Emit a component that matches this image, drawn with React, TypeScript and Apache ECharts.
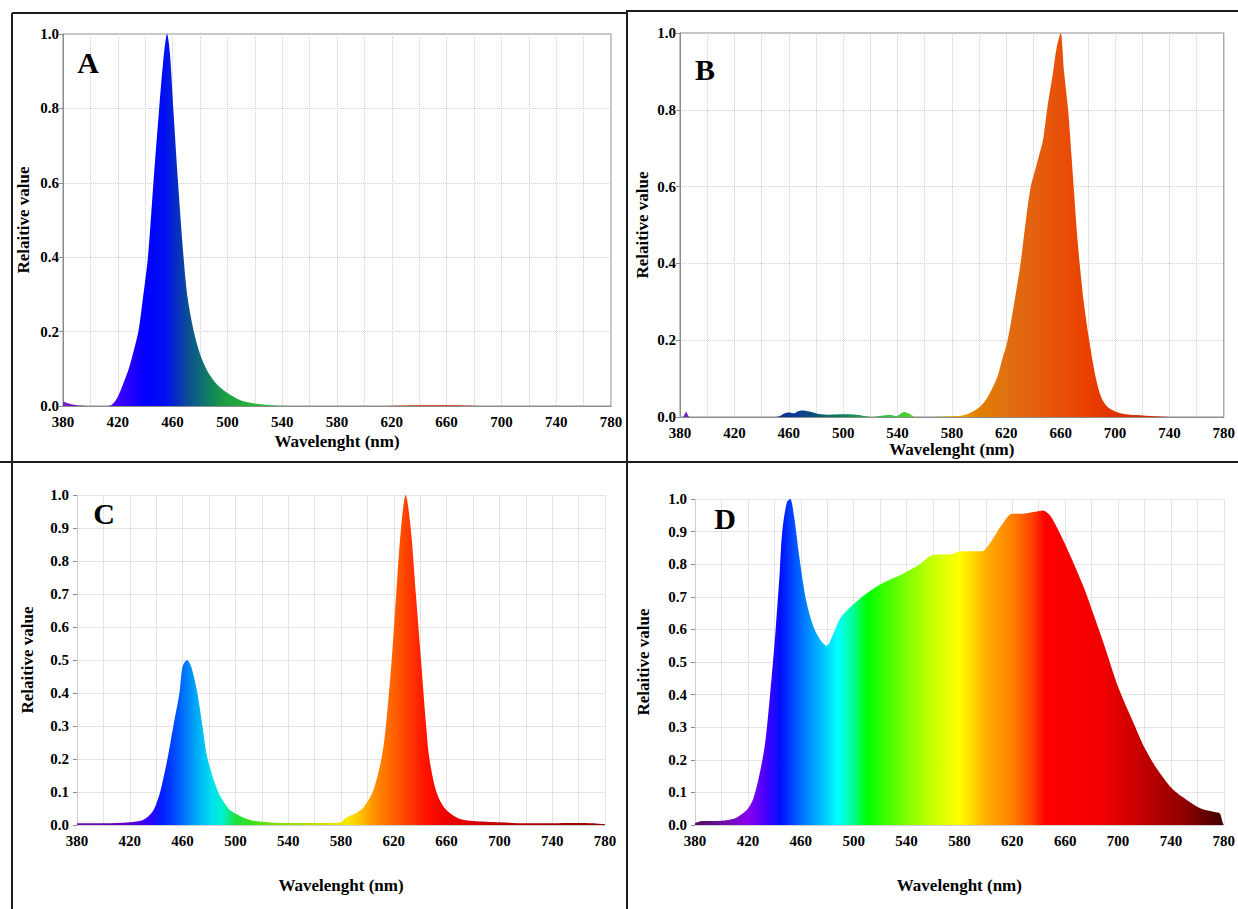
import React, { useEffect, useRef } from 'react';
import * as echarts from 'echarts';

// ---------- axis / tick values ----------
const X_MIN = 380;
const X_MAX = 780;
const X_GRID_STEP = 20;
const X_LABEL_STEP = 40;
const Y_STEP_AB = 0.2;
const Y_STEP_CD = 0.1;

const PANEL_LETTERS = ['A', 'B', 'C', 'D'];
const X_TITLE = 'Wavelenght (nm)';
const Y_TITLE = 'Relaitive value';

// ---------- Panel A (blue LED) ----------
const A_WL = [380, 385, 390, 400, 410, 415, 420, 425, 428, 431, 435, 438, 442, 446, 450, 453, 456, 458, 460.5, 464, 468, 471, 475.5, 480, 486, 492, 500, 510, 520, 530, 540, 560, 600, 620, 640, 660, 680, 700, 740, 780];
const A_VAL = [0.012, 0.006, 0.002, 0, 0, 0.002, 0.025, 0.07, 0.1, 0.14, 0.2, 0.28, 0.4, 0.6, 0.79, 0.92, 1.0, 0.95, 0.8, 0.6, 0.4, 0.29, 0.2, 0.14, 0.09, 0.06, 0.035, 0.015, 0.007, 0.003, 0.001, 0, 0, 0.001, 0.003, 0.003, 0.001, 0, 0, 0];

// ---------- Panel B (red LED) ----------
const B_WL = [380, 382, 384.5, 387, 390, 450, 453, 457, 460, 464, 467, 470, 474, 478, 482, 490, 500, 510, 517, 522, 528, 535, 539, 542, 545, 549, 553, 560, 580, 590, 600, 606, 613, 617, 621, 626, 630.5, 634, 638, 641, 644, 647, 650, 654.5, 657, 660, 662.5, 665.5, 668, 670, 672, 674, 677, 681, 686, 690, 695, 704, 715, 730, 745, 780];
const B_VAL = [0, 0, 0.013, 0, 0, 0, 0.002, 0.01, 0.012, 0.01, 0.015, 0.017, 0.015, 0.012, 0.008, 0.006, 0.007, 0.006, 0.002, 0, 0.003, 0.005, 0.002, 0.008, 0.013, 0.008, 0, 0, 0.002, 0.006, 0.025, 0.05, 0.1, 0.15, 0.2, 0.3, 0.4, 0.5, 0.6, 0.64, 0.68, 0.72, 0.8, 0.9, 0.96, 1.0, 0.9, 0.8, 0.68, 0.58, 0.48, 0.4, 0.3, 0.2, 0.1, 0.05, 0.025, 0.01, 0.005, 0.002, 0, 0];

// ---------- Panel C (blue + red LED) ----------
const C_WL = [380, 400, 420, 430, 435, 438.6, 443, 448.5, 453, 457.6, 460, 463.4, 466.5, 471.2, 475, 479, 487, 494.7, 500, 507.7, 515, 530, 550, 570, 580, 583, 590, 596.3, 604, 610.6, 614, 618.4, 621.8, 625.5, 629, 632.8, 636.7, 640.6, 644.5, 647, 652.3, 658.8, 669, 680, 690, 700, 720, 740, 750, 760, 770, 780];
const C_VAL = [0.005, 0.005, 0.008, 0.015, 0.03, 0.05, 0.1, 0.2, 0.3, 0.4, 0.48, 0.5, 0.48, 0.4, 0.3, 0.2, 0.1, 0.05, 0.035, 0.02, 0.012, 0.007, 0.006, 0.006, 0.008, 0.02, 0.033, 0.05, 0.1, 0.2, 0.3, 0.5, 0.7, 0.9, 1.0, 0.9, 0.7, 0.5, 0.3, 0.2, 0.1, 0.05, 0.02, 0.012, 0.01, 0.008, 0.005, 0.005, 0.006, 0.006, 0.005, 0.002];

// ---------- Panel D (full spectrum) ----------
const D_WL = [380, 385, 400, 410, 415, 420, 424, 428, 433, 438, 441, 444, 446, 449.5, 452, 455, 459, 464, 469.5, 474.5, 479.5, 485, 490, 498, 508, 521, 537, 550, 558, 565, 573, 581, 589, 597, 604, 612, 620, 628, 636, 643, 648.5, 656, 664, 674, 682, 690, 700, 711, 721, 731.5, 742, 752, 763, 773, 777, 779, 780];
const D_VAL = [0.005, 0.012, 0.013, 0.02, 0.032, 0.05, 0.08, 0.14, 0.25, 0.455, 0.6, 0.77, 0.9, 0.99, 1.0, 0.945, 0.82, 0.69, 0.61, 0.57, 0.55, 0.59, 0.635, 0.67, 0.705, 0.74, 0.77, 0.8, 0.825, 0.83, 0.83, 0.84, 0.84, 0.84, 0.87, 0.92, 0.955, 0.955, 0.96, 0.965, 0.95, 0.895, 0.825, 0.73, 0.64, 0.547, 0.425, 0.32, 0.23, 0.16, 0.107, 0.077, 0.05, 0.04, 0.036, 0.01, 0];

// ---------- colour stops (wavelength, colour) ----------
const A_COLORS: [number, string][] = [[380, '#7a20c8'], [400, '#5a10e8'], [415, '#4a00ff'], [428, '#2800ff'], [440, '#0000ff'], [455, '#0010f0'], [462, '#0828c8'], [470, '#0a4a9a'], [480, '#0e6a78'], [490, '#148a58'], [500, '#1ea040'], [520, '#28b838'], [560, '#40c040'], [600, '#c08040'], [640, '#d86030'], [680, '#d05030'], [780, '#c04030']];
const B_COLORS: [number, string][] = [[380, '#7a20d0'], [390, '#6030c0'], [455, '#103090'], [465, '#0c3c9a'], [475, '#0a4a80'], [485, '#0a6070'], [500, '#108060'], [515, '#20a050'], [530, '#30c040'], [545, '#40d030'], [560, '#a0c020'], [585, '#e8a000'], [600, '#e08000'], [620, '#e07010'], [640, '#e46010'], [660, '#e85008'], [680, '#ea4000'], [700, '#e03000'], [780, '#c02000']];
const C_COLORS: [number, string][] = [[380, '#6a10b0'], [420, '#6000d0'], [435, '#3000ff'], [445, '#0020ff'], [455, '#0050ff'], [462, '#0078f8'], [470, '#00a8f8'], [482, '#00e0f0'], [490, '#00f0d0'], [500, '#20e040'], [510, '#30e020'], [530, '#80e000'], [560, '#c0e000'], [585, '#f8e800'], [595, '#ffc000'], [605, '#ff9000'], [615, '#ff7000'], [625, '#ff5000'], [635, '#ff3000'], [645, '#ff1000'], [660, '#f00000'], [700, '#c00000'], [780, '#900000']];
const D_COLORS: [number, string][] = [[380, '#4a1060'], [400, '#6a10a0'], [420, '#8a00f0'], [435, '#4000ff'], [445, '#0010ff'], [455, '#0050ff'], [470, '#00a0ff'], [488, '#00ffff'], [500, '#00ff90'], [510, '#00ff00'], [540, '#80ff00'], [560, '#c8ff00'], [580, '#ffff00'], [600, '#ffb000'], [620, '#ff8000'], [635, '#ff4000'], [645, '#ff0000'], [690, '#f00000'], [720, '#c00000'], [750, '#900000'], [780, '#400000']];

const FONT = "'Liberation Serif', 'Times New Roman', serif";

function pairs(wl: number[], val: number[]) {
  return wl.map((w, i) => [w, val[i]]);
}

function spectrum(stops: [number, string][]) {
  return new echarts.graphic.LinearGradient(
    0, 0, 1, 0,
    stops.map(([w, c]) => ({ offset: (w - X_MIN) / (X_MAX - X_MIN), color: c }))
  );
}

export default function App() {
  const ref = useRef<HTMLDivElement>(null);

  useEffect(() => {
    if (!ref.current) return;
    const chart = echarts.init(ref.current, null, { renderer: 'svg' });

    const framed = [true, true, false, false];
    const grids = [
      { left: 63, top: 34, width: 548, height: 372 },
      { left: 680, top: 33, width: 551, height: 384 },
      { left: 77, top: 495, width: 528, height: 330 },
      { left: 695, top: 499, width: 535, height: 326 },
    ].map((g, i) => ({
      ...g,
      show: framed[i],
      borderColor: '#8c8c8c',
      borderWidth: 1,
      backgroundColor: 'transparent',
    }));

    const xNameGap = [27, 24, 52, 52];
    const yNameGap = [31, 29, 41, 43];
    const yStep = [Y_STEP_AB, Y_STEP_AB, Y_STEP_CD, Y_STEP_CD];
    const xLabelMargin = [8, 8, 8, 8];
    const yLabelMargin = [4, 4, 8, 8];

    const splitStyle = (i: number) =>
      framed[i]
        ? { color: '#cfcfcf', type: 'dotted' as const, width: 1 }
        : { color: '#e4e4e4', type: 'solid' as const, width: 1 };

    const labelText = {
      fontFamily: FONT,
      fontWeight: 'bold' as const,
      fontSize: 15,
      color: '#000',
    };
    const titleText = {
      fontFamily: FONT,
      fontWeight: 'bold' as const,
      fontSize: 17,
      color: '#000',
    };

    const xAxis = grids.map((_, i) => ({
      gridIndex: i,
      type: 'value',
      min: X_MIN,
      max: X_MAX,
      interval: X_GRID_STEP,
      name: X_TITLE,
      nameLocation: 'middle',
      nameGap: xNameGap[i],
      nameTextStyle: titleText,
      axisLine: { show: true, lineStyle: { color: framed[i] ? '#8c8c8c' : '#cfcfcf' } },
      axisTick: { show: false },
      axisLabel: {
        ...labelText,
        formatter: (v: number) => ((v - X_MIN) % X_LABEL_STEP === 0 ? String(v) : ''),
        margin: xLabelMargin[i],
      },
      splitLine: { show: true, lineStyle: splitStyle(i) },
    }));

    const yAxis = grids.map((_, i) => ({
      gridIndex: i,
      type: 'value',
      min: 0,
      max: 1,
      interval: yStep[i],
      name: Y_TITLE,
      nameLocation: 'middle',
      nameRotate: 90,
      nameGap: yNameGap[i],
      nameTextStyle: titleText,
      axisLine: { show: true, lineStyle: { color: framed[i] ? '#8c8c8c' : '#cfcfcf' } },
      axisTick: { show: true, length: 4, lineStyle: { color: '#8c8c8c' } },
      axisLabel: {
        ...labelText,
        formatter: (v: number) => v.toFixed(1),
        margin: yLabelMargin[i],
      },
      splitLine: { show: true, lineStyle: splitStyle(i) },
    }));

    const panels = [
      { wl: A_WL, val: A_VAL, colors: A_COLORS },
      { wl: B_WL, val: B_VAL, colors: B_COLORS },
      { wl: C_WL, val: C_VAL, colors: C_COLORS },
      { wl: D_WL, val: D_VAL, colors: D_COLORS },
    ];

    const series = panels.map((p, i) => ({
      type: 'line',
      name: PANEL_LETTERS[i],
      xAxisIndex: i,
      yAxisIndex: i,
      data: pairs(p.wl, p.val),
      showSymbol: false,
      symbol: 'none',
      smooth: 0.3,
      lineStyle: { width: 0 },
      areaStyle: { color: spectrum(p.colors), opacity: 1 },
      z: 3,
    }));

    const letterPos = [
      [88, 62],
      [705, 69],
      [104, 513],
      [725, 518],
    ];

    const border = { stroke: '#1e1e1e', lineWidth: 2 };
    const graphic = [
      { type: 'line', shape: { x1: 12, y1: 13, x2: 627, y2: 13 }, style: border },
      { type: 'line', shape: { x1: 627, y1: 11, x2: 1238, y2: 11 }, style: border },
      { type: 'line', shape: { x1: 12, y1: 13, x2: 12, y2: 909 }, style: border },
      { type: 'line', shape: { x1: 627, y1: 10, x2: 627, y2: 909 }, style: border },
      { type: 'line', shape: { x1: 0, y1: 462, x2: 1238, y2: 462 }, style: border },
      ...PANEL_LETTERS.map((t, i) => ({
        type: 'text',
        x: letterPos[i][0],
        y: letterPos[i][1],
        z: 10,
        style: {
          text: t,
          fontFamily: FONT,
          fontWeight: 'bold',
          fontSize: 30,
          fill: '#000',
          align: 'center',
          verticalAlign: 'middle',
        },
      })),
    ];

    chart.setOption({
      animation: false,
      backgroundColor: '#ffffff',
      textStyle: { fontFamily: FONT },
      grid: grids,
      xAxis,
      yAxis,
      series,
      graphic,
    } as any);

    return () => chart.dispose();
  }, []);

  return (
    <div
      ref={ref}
      style={{ position: 'absolute', left: 0, top: 0, width: 1238, height: 909, background: '#fff' }}
    />
  );
}
